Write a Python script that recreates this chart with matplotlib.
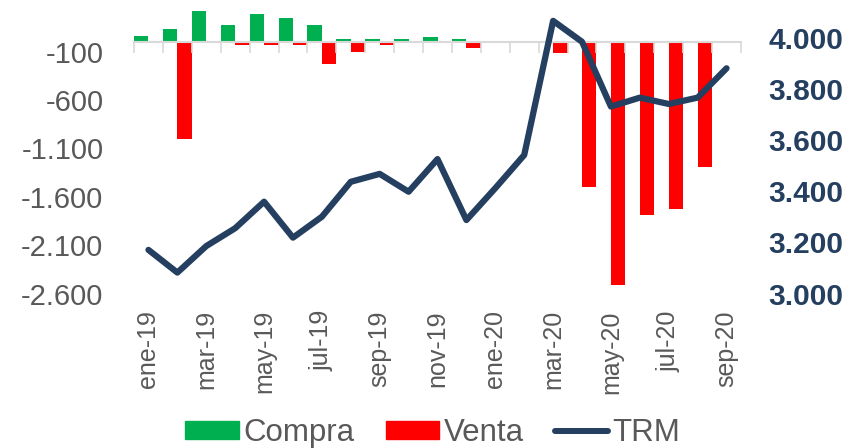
import numpy as np
import matplotlib
matplotlib.use("Agg")
import matplotlib.pyplot as plt
from matplotlib.ticker import FuncFormatter
from matplotlib.patches import Patch
from matplotlib.lines import Line2D

plt.rcParams['font.family'] = ['Liberation Sans', 'DejaVu Sans']

# monthly data, ene-19 .. sep-20
months = ['ene-19', 'feb-19', 'mar-19', 'abr-19', 'may-19', 'jun-19', 'jul-19',
          'ago-19', 'sep-19', 'oct-19', 'nov-19', 'dic-19', 'ene-20', 'feb-20',
          'mar-20', 'abr-20', 'may-20', 'jun-20', 'jul-20', 'ago-20', 'sep-20']
compra = [59, 138, 317, 179, 293, 245, 179, 28, 34, 28, 55, 34,
          0, 0, 0, 0, 0, 0, 0, 0, 0]
venta = [0, -1006, -10, -31, -31, -31, -227, -100, -31, 0, 0, -65,
         0, 0, -110, -1500, -2510, -1789, -1724, -1289, -10]
trm = [3171, 3082, 3186, 3256, 3360, 3219, 3301, 3438, 3469, 3399, 3527, 3288,
       3413, 3543, 4069, 3987, 3733, 3768, 3743, 3768, 3883]

GREEN = '#00B050'
RED = '#FF0000'
NAVY = '#243F60'
GREY_TXT = '#595959'
GREY_AX = '#D9D9D9'

fig = plt.figure(figsize=(8.5, 4.48), dpi=100)
ax = fig.add_axes([134 / 850, 1 - 293.5 / 448, (741 - 134) / 850, 288.2 / 448])

x = np.arange(len(months))
ax.bar(x - 0.25, compra, width=0.5, color=GREEN, zorder=2)
ax.bar(x + 0.25, venta, width=0.5, color=RED, zorder=2)

ax.set_xlim(-0.5, len(months) - 0.5)
ax.set_ylim(-2600, 380)
ax.set_yticks(np.arange(-2600, 0, 500))
ax.yaxis.set_major_formatter(FuncFormatter(lambda v, p: f"{v:,.0f}".replace(',', '.')))
ax.tick_params(axis='y', length=0, pad=22, labelsize=21, labelcolor=GREY_TXT)

ax.set_xticks(x[::2])
ax.set_xticklabels(months[::2], rotation=90)
ax.tick_params(axis='x', length=0, pad=12, labelsize=18, labelcolor=GREY_TXT)

for s in ax.spines.values():
    s.set_visible(False)

# category axis crossing at zero, with tick marks between categories
ymin, ymax = ax.get_ylim()
zero_frac = (0 - ymin) / (ymax - ymin)
sec = ax.secondary_xaxis(zero_frac)
sec.set_alignment('bottom')
sec.set_xticks(np.arange(-0.5, len(months), 1))
sec.set_xticklabels([])
sec.tick_params(axis='x', direction='out', length=8, width=1.2, color=GREY_AX)
sec.spines['bottom'].set_color(GREY_AX)
sec.spines['bottom'].set_linewidth(1.5)
sec.set_zorder(3)

# TRM on the right axis
ax2 = ax.twinx()
ax2.plot(x, trm, color=NAVY, lw=4.5, solid_joinstyle='round', solid_capstyle='round')
ax2.set_ylim(3000, 4130)
ax2.set_yticks(np.arange(3000, 4001, 200))
ax2.yaxis.set_major_formatter(FuncFormatter(lambda v, p: f"{v:,.0f}".replace(',', '.')))
ax2.tick_params(axis='y', length=0, pad=20, labelsize=21.5, labelcolor=NAVY)
for lab in ax2.get_yticklabels():
    lab.set_fontweight('bold')
for s in ax2.spines.values():
    s.set_visible(False)

handles = [Patch(color=GREEN, label='Compra'),
           Patch(color=RED, label='Venta'),
           Line2D([], [], color=NAVY, lw=4.3, solid_capstyle='round', label='TRM')]
leg = fig.legend(handles=handles, loc='center', bbox_to_anchor=(433 / 850, 1 - 433 / 448),
                 ncol=3, frameon=False, fontsize=22.5, handlelength=1.7, handleheight=0.55,
                 handletextpad=0.15, columnspacing=1.0)
for t in leg.get_texts():
    t.set_color(GREY_TXT)

fig.savefig('out.png', dpi=100)
